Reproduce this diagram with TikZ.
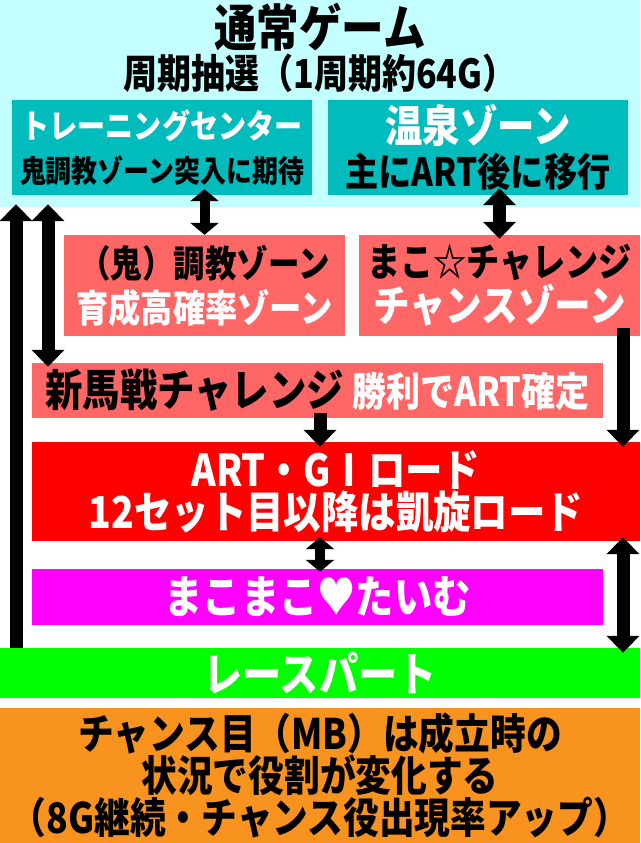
\documentclass[tikz,border=0pt]{standalone}
\usepackage{fontspec}
\setmainfont{Noto Sans CJK JP}[UprightFont=* Black, FakeStretch=0.85]
\usetikzlibrary{arrows.meta}
\usepackage{xcolor}
\definecolor{skycyan}{HTML}{C4FFFF}
\definecolor{zoneteal}{HTML}{00BCBC}
\definecolor{zonerose}{HTML}{FF6666}
\definecolor{artred}{HTML}{FF0000}
\definecolor{timemag}{HTML}{FF00FF}
\definecolor{racegreen}{HTML}{00FF00}
\definecolor{noteorange}{HTML}{F7931E}
\newcommand{\fs}[2]{\fontsize{#1}{#2}\selectfont}
\tikzset{
    zone/.style={inner sep=0pt, align=center, text=black}, % Coloured boxes
    fat/.style={line width=13pt, >={Triangle[length=17pt, width=32pt]}}, % Long arrows
    slim/.style={line width=10pt, >={Triangle[length=12pt, width=28pt]}}, % Short arrows
}
\begin{document}
\begin{tikzpicture}[x=1pt, y=-1pt, every node/.style={inner sep=0pt, align=center}]
    \useasboundingbox (0,0) rectangle (640,843);

    % --- Normal game ---
    \node[zone, fill=skycyan, minimum width=640pt, minimum height=207pt] (normal) at (320,103.5) {};
    \node (title) at (320,27) {\fs{50}{50}通常ゲーム};
    \node (cycle) at (320,73) {\fs{40}{40}周期抽選（1周期約64G）};

    \node[zone, fill=zoneteal, minimum width=300pt, minimum height=95pt, font=\fs{31}{44}] (train) at (162,147.5)
        {{\color{white}\fs{33}{44}トレーニングセンター}\\\fs{30.5}{44}鬼調教ゾーン突入に期待};
    \node[zone, fill=zoneteal, minimum width=300pt, minimum height=95pt, font=\fs{39}{44}] (onsen) at (478,147.5)
        {{\color{white}\fs{44}{44}温泉ゾーン}\\\fs{39}{44}主にART後に移行};

    % --- Zones ---
    \node[zone, fill=zonerose, minimum width=281pt, minimum height=101pt, font=\fs{37}{45}] (oni) at (204.5,285.5)
        {{\fs{37}{45}（鬼）調教ゾーン}\\{\color{white}\fs{38}{45}育成高確率ゾーン}};
    \node[zone, fill=zonerose, minimum width=281pt, minimum height=101pt, font=\fs{39}{45}] (mako) at (499.5,285.5)
        {{\fs{39}{45}まこ☆チャレンジ}\\{\color{white}\fs{43}{45}チャンスゾーン}};
    \node[zone, fill=zonerose, minimum width=571pt, minimum height=55pt] (shinba) at (317.5,390.5)
        {{\fs{44}{44}新馬戦チャレンジ}\hspace{8pt}{\color{white}\fs{40}{44}勝利でART確定}};

    % --- ART ---
    \node[zone, fill=artred, text=white, minimum width=608pt, minimum height=99pt, font=\fs{44}{42}] (art) at (336,491.5)
        {ART・GⅠロード\\12セット目以降は凱旋ロード};
    \node[zone, fill=timemag, text=white, minimum width=571pt, minimum height=56pt, font=\fs{45}{45}] (makomako) at (317.5,597)
        {まこまこ♥たいむ};
    \node[zone, fill=racegreen, text=white, minimum width=640pt, minimum height=50pt, font=\fs{46}{46}] (race) at (320,673)
        {レースパート};
    \node[zone, fill=noteorange, minimum width=640pt, minimum height=135pt, font=\fs{42}{39}] (note) at (320,775.5)
        {チャンス目（MB）は成立時の\\状況で役割が変化する\\（8G継続・チャンス役出現率アップ）};

    % --- Arrows ---
    \coordinate (xa) at (16,0);
    \coordinate (xb) at (48,0);
    \coordinate (xc) at (320,0);
    \coordinate (xd) at (623,0);

    \draw[fat, ->, shorten >=-3pt] (race.north -| xa) -- (normal.south -| xa);
    \draw[fat, <->, shorten <=-3pt, shorten >=-4pt] (normal.south -| xb) -- (shinba.north -| xb);
    \draw[slim, <->, shorten <=-6pt] (train.south -| oni.north) -- (oni.north);
    \draw[fat, <->, shorten <=-7pt, shorten >=-4pt] (onsen.south -| mako.north) -- (mako.north);
    \draw[fat, ->, shorten <=-8pt, shorten >=-5pt] (mako.south -| xd) -- (art.north -| xd);
    \draw[fat, ->, shorten <=-5pt, shorten >=-5pt] (shinba.south -| xc) -- (art.north -| xc);
    \draw[slim, <->, shorten <=-4pt, shorten >=-3pt] (art.south -| xc) -- (makomako.north -| xc);
    \draw[fat, <->, shorten <=-4pt, shorten >=-5pt] (art.south -| xd) -- (race.north -| xd);

\end{tikzpicture}
\end{document}
